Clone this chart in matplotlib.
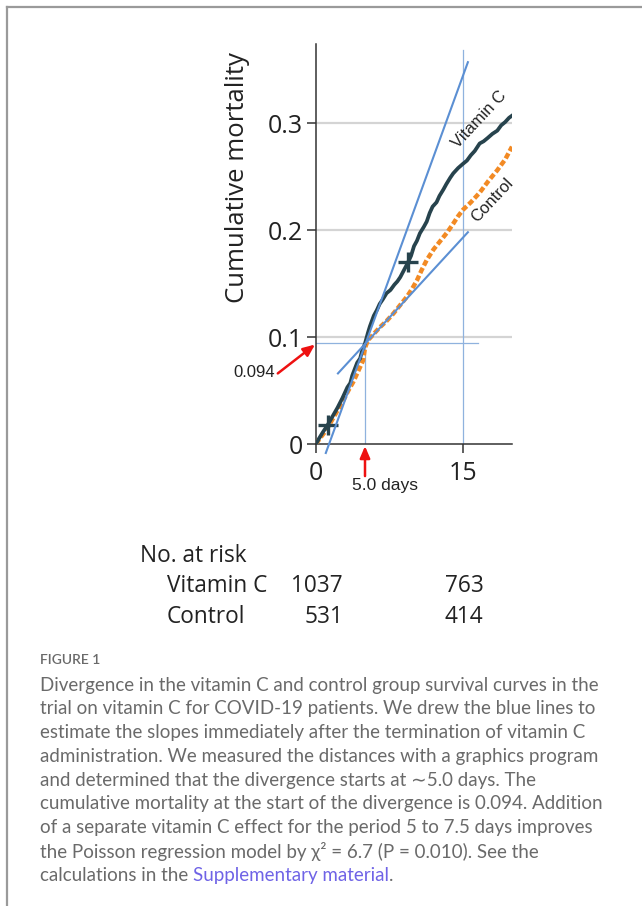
import matplotlib
matplotlib.use("Agg")
import matplotlib.pyplot as plt
from matplotlib.lines import Line2D
import matplotlib.transforms as mtransforms

# curves (days, cumulative mortality)
vitc_days = [0, 0.3, 0.7, 1.2, 1.7, 2.2, 2.7, 3.2, 3.5, 3.7, 4.2, 4.5, 4.7, 5.0, 5.3, 5.5,
             5.9, 6.2, 6.5, 6.8, 7.2, 7.6, 8.0, 8.3, 8.6, 9.0, 9.4, 9.7, 10.0, 10.3, 10.6,
             11.0, 11.3, 11.6, 11.9, 12.3, 12.6, 13.0, 13.3, 13.7, 14.0, 14.5, 15.0, 15.4,
             15.8, 16.2, 16.7, 17.1, 17.5, 18.0, 18.5, 18.9, 19.3, 19.7, 20.0]
vitc_cum = [0, 0.005, 0.011, 0.018, 0.026, 0.034, 0.043, 0.053, 0.057, 0.064, 0.076, 0.080,
            0.087, 0.094, 0.104, 0.110, 0.120, 0.125, 0.131, 0.135, 0.141, 0.144, 0.149,
            0.152, 0.156, 0.163, 0.170, 0.176, 0.185, 0.190, 0.197, 0.203, 0.208, 0.216,
            0.222, 0.226, 0.232, 0.238, 0.243, 0.249, 0.253, 0.258, 0.262, 0.265, 0.270,
            0.274, 0.281, 0.283, 0.286, 0.290, 0.293, 0.298, 0.301, 0.305, 0.307]

ctrl_days = [0, 0.3, 0.8, 1.3, 1.8, 2.3, 2.8, 3.3, 3.8, 4.3, 4.8, 5.0, 5.3, 5.8, 6.5, 7.2,
             7.9, 8.6, 9.3, 9.8, 10.3, 10.8, 11.3, 12.0, 12.7, 13.4, 14.0, 14.5, 15.0,
             15.8, 16.7, 17.6, 18.5, 19.3, 20.0]
ctrl_cum = [0, 0.004, 0.010, 0.017, 0.025, 0.033, 0.041, 0.050, 0.058, 0.068, 0.078, 0.090,
            0.097, 0.102, 0.109, 0.115, 0.122, 0.130, 0.138, 0.145, 0.153, 0.163, 0.172,
            0.182, 0.190, 0.198, 0.206, 0.213, 0.219, 0.226, 0.235, 0.246, 0.256, 0.266, 0.278]

# censor marks on the vitamin C curve
censor_days = [1.2, 9.4]
censor_cum = [0.018, 0.170]

# hand-drawn slope lines (start, end points)
steep_x = [1.0, 15.5]
steep_y = [-0.0084, 0.357]
shallow_x = [2.24, 15.5]
shallow_y = [0.066, 0.198]

diverge_day = 5.0
diverge_cum = 0.094

yticks = [0, 0.1, 0.2, 0.3]
ytick_labels = ["0", "0.1", "0.2", "0.3"]
xticks = [0, 15]
xtick_labels = ["0", "15"]

risk_groups = ["Vitamin C", "Control"]
risk_at_0 = [1037, 531]
risk_at_15 = [763, 414]

caption_lines = [
    "Divergence in the vitamin C and control group survival curves in the",
    "trial on vitamin C for COVID-19 patients. We drew the blue lines to",
    "estimate the slopes immediately after the termination of vitamin C",
    "administration. We measured the distances with a graphics program",
    "and determined that the divergence starts at \u223c5.0 days. The",
    "cumulative mortality at the start of the divergence is 0.094. Addition",
    "of a separate vitamin C effect for the period 5 to 7.5 days improves",
    "the Poisson regression model by \u03c7\u00b2 = 6.7 (P = 0.010). See the",
]

DARK = "#27434d"
ORANGE = "#f28a24"
BLUE = "#5b8fd3"
THIN_BLUE = "#8fb2de"
GRID = "#d4d4d4"
RED = "#ee1111"
TXT = "#222222"
CAP = "#6a6a6a"

W, H = 642, 906
fig = plt.figure(figsize=(W / 100, H / 100), dpi=100)
fig.patch.set_facecolor("white")

# page border (top and left)
fig.add_artist(Line2D([7 / W, 1], [1 - 7 / H, 1 - 7 / H], color="#9a9a9a", lw=1.6))
fig.add_artist(Line2D([7 / W, 7 / W], [0, 1 - 7 / H], color="#9a9a9a", lw=1.6))

ax = fig.add_axes([316 / W, 1 - 444 / H, (512 - 316) / W, (444 - 44) / H])
ax.set_xlim(0, 20)
ax.set_ylim(0, 0.374)
for s in ["top", "right"]:
    ax.spines[s].set_visible(False)
for s in ["left", "bottom"]:
    ax.spines[s].set_color("#333333")
    ax.spines[s].set_linewidth(1.1)

ax.set_yticks(yticks)
ax.set_yticklabels(ytick_labels)
ax.set_xticks(xticks)
ax.set_xticklabels(xtick_labels)
ax.tick_params(length=6.5, width=1.1, color="#333333", labelsize=18, labelcolor=TXT)
ax.tick_params(axis="y", pad=3)
ax.tick_params(axis="x", pad=6)
for lab in ax.get_xticklabels() + ax.get_yticklabels():
    lab.set_fontfamily("Open Sans")

# gridlines
for yv in yticks[1:]:
    ax.axhline(yv, color=GRID, lw=1.6, zorder=1)

# thin guide lines
ax.plot([15, 15], [0, 0.368], color=THIN_BLUE, lw=0.9, zorder=2)
ax.plot([diverge_day, diverge_day], [0, diverge_cum], color=THIN_BLUE, lw=0.9, zorder=2)
ax.plot([0, 16.5], [diverge_cum, diverge_cum], color=THIN_BLUE, lw=0.9, zorder=2)

# curves
ax.plot(ctrl_days, ctrl_cum, color=ORANGE, lw=3.2, dashes=(1.3, 0.6), zorder=3,
        dash_capstyle="butt")
ax.plot(vitc_days, vitc_cum, color=DARK, lw=2.7, zorder=4)
ax.plot(censor_days, censor_cum, ls="none", marker="+", ms=14, mew=2.4, color=DARK, zorder=5)

# slope lines
ax.plot(steep_x, steep_y, color=BLUE, lw=1.5, zorder=6, clip_on=False)
ax.plot(shallow_x, shallow_y, color=BLUE, lw=1.5, zorder=6, clip_on=False)

# curve labels
ax.text(16.7, 0.303, "Vitamin C", rotation=47, ha="center", va="center",
        fontsize=12, family="Liberation Sans", color=TXT)
ax.text(17.95, 0.228, "Control", rotation=47, ha="center", va="center",
        fontsize=12, family="Liberation Sans", color=TXT)

# red arrows with annotations
ax.annotate("", xy=(-0.1, 0.093), xytext=(-3.9, 0.066), annotation_clip=False,
            arrowprops=dict(arrowstyle="-|>,head_length=0.7,head_width=0.3",
                            color=RED, lw=1.8, shrinkA=0, shrinkB=0))
ax.text(-4.2, 0.067, "0.094", ha="right", va="center", fontsize=12,
        family="Liberation Sans", color=TXT, clip_on=False)
ax.annotate("", xy=(diverge_day, -0.002), xytext=(diverge_day, -0.030), annotation_clip=False,
            arrowprops=dict(arrowstyle="-|>,head_length=0.7,head_width=0.3",
                            color=RED, lw=1.8, shrinkA=0, shrinkB=0))
ax.text(7.0, -0.039, "5.0 days", ha="center", va="center", fontsize=12.5,
        family="Liberation Sans", color=TXT, clip_on=False)

# y label
fig.text(238 / W, 1 - 178 / H, "Cumulative mortality", rotation=90, ha="center",
         va="center", fontsize=18.5, family="Open Sans", color=TXT)

# number at risk table
tr = mtransforms.blended_transform_factory(ax.transData, fig.transFigure)
RFS = 16.3
fig.text(140 / W, 1 - 556 / H, "No. at risk", ha="left", va="center", fontsize=RFS,
         family="Open Sans", color=TXT)
row_y = [586, 617]
for grp, n0, n15, yp in zip(risk_groups, risk_at_0, risk_at_15, row_y):
    fig.text(167 / W, 1 - yp / H, grp, ha="left", va="center", fontsize=RFS,
             family="Open Sans", color=TXT)
    ax.text(2.75, 1 - yp / H, str(n0), transform=tr, ha="right", va="center",
            fontsize=RFS, family="Open Sans", color=TXT, clip_on=False)
    ax.text(17.1, 1 - yp / H, str(n15), transform=tr, ha="right", va="center",
            fontsize=RFS, family="Open Sans", color=TXT, clip_on=False)

# caption
cap_fam = ["Lato", "DejaVu Sans"]
CFS = 13.5
fig.text(40 / W, 1 - 660 / H, "FIGURE 1", ha="left", va="center", fontsize=10,
         family=cap_fam, color=CAP, weight="semibold")
cap_y0 = 685
cap_step = 23.8
for i, line in enumerate(caption_lines):
    fig.text(40 / W, 1 - (cap_y0 + i * cap_step) / H, line, ha="left", va="center",
             fontsize=CFS, family=cap_fam, color=CAP)

# last line with link coloured text
last_y = 1 - (cap_y0 + len(caption_lines) * cap_step) / H
renderer = fig.canvas.get_renderer()
fig.text(40 / W, last_y, "calculations in the ", ha="left", va="center",
         fontsize=CFS, family=cap_fam, color=CAP)
probe = fig.text(0, 0, "calculations in the S", fontsize=CFS, family=cap_fam)
probe_s = fig.text(0, 0, "S", fontsize=CFS, family=cap_fam)
w_prefix = (probe.get_window_extent(renderer).width
            - probe_s.get_window_extent(renderer).width)
probe.remove()
probe_s.remove()
x_link = 40 + w_prefix
t2 = fig.text(x_link / W, last_y, "Supplementary material", ha="left", va="center",
              fontsize=CFS, family=cap_fam, color="#6f63e6")
w_link = t2.get_window_extent(renderer).width
fig.text((x_link + w_link) / W, last_y, ".", ha="left", va="center",
         fontsize=CFS, family=cap_fam, color=CAP)

fig.savefig("out.png", dpi=100)
